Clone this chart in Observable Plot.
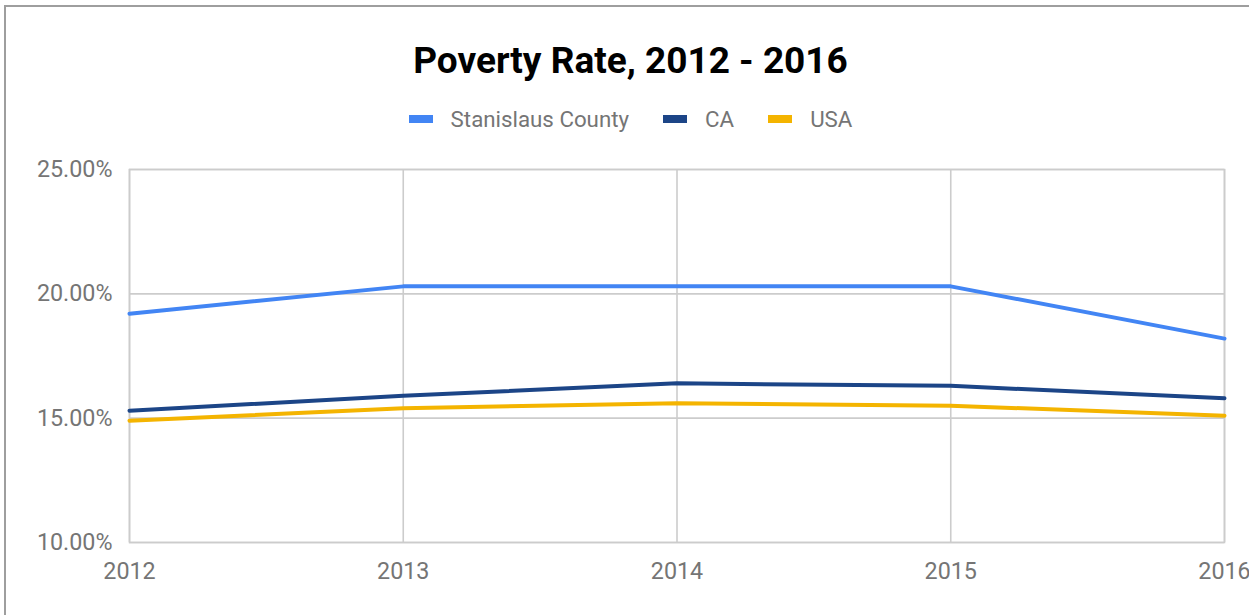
<!DOCTYPE html>
<html>
<head>
<meta charset="utf-8">
<script src="https://cdn.jsdelivr.net/npm/d3@7"></script>
<script src="https://cdn.jsdelivr.net/npm/@observablehq/plot@0.6"></script>
<style>
  html, body { margin: 0; padding: 0; background: #fff; overflow: hidden; }
  body { width: 1249px; height: 615px; position: relative; font-family: Roboto, "Noto Sans", sans-serif; }
  #border { position: absolute; left: 4px; top: 5px; width: 2000px; height: 2000px;
            border-top: 2px solid #9e9e9e; border-left: 2px solid #9e9e9e; box-sizing: border-box; }
  #title { position: absolute; left: 0; top: 42px; width: 1261px; text-align: center;
           font-size: 37px; font-weight: bold; line-height: 37px; color: #000; }
  #legend { position: absolute; left: 0; top: 106px; width: 1261px; height: 26px;
            display: flex; justify-content: center; align-items: center; }
  .item { display: flex; align-items: center; margin: 0 17px; }
  .sw { width: 24px; height: 8px; margin-right: 18px; }
  .lab { font-size: 22.3px; color: #757575; line-height: 26px; }
  #chart { position: absolute; left: 0; top: 145px; }
</style>
</head>
<body>
<div id="border"></div>
<div id="title">Poverty Rate, 2012 - 2016</div>
<div id="legend"></div>
<div id="chart"></div>
<script>
const years = [2012, 2013, 2014, 2015, 2016];
const seriesNames = ["Stanislaus County", "CA", "USA"];
const stanislaus = [0.192, 0.203, 0.203, 0.203, 0.182];
const ca = [0.153, 0.159, 0.164, 0.163, 0.158];
const usa = [0.149, 0.154, 0.156, 0.155, 0.151];
const yTicks = [0.10, 0.15, 0.20, 0.25];
const colors = ["#4285f4", "#1c4587", "#f4b400"];

const seriesValues = [stanislaus, ca, usa];
const data = [];
seriesNames.forEach((s, i) => years.forEach((y, j) => data.push({series: s, year: y, value: seriesValues[i][j]})));

// legend
const legend = document.getElementById("legend");
seriesNames.forEach((s, i) => {
  const it = document.createElement("div"); it.className = "item";
  const sw = document.createElement("div"); sw.className = "sw"; sw.style.background = colors[i];
  const lb = document.createElement("span"); lb.className = "lab"; lb.textContent = s;
  it.appendChild(sw); it.appendChild(lb); legend.appendChild(it);
});

const chart = Plot.plot({
  width: 1249,
  height: 470,
  marginLeft: 129,
  marginRight: 25,
  marginTop: 24,
  marginBottom: 73,
  style: { fontFamily: "Roboto, sans-serif", fontSize: "23.3px", color: "#757575", background: "transparent" },
  x: { domain: [2012, 2016], label: null },
  y: { domain: [0.10, 0.25], label: null },
  color: { domain: seriesNames, range: colors },
  marks: [
    Plot.gridX(years, { stroke: "#cccccc", strokeOpacity: 1, strokeWidth: 1.6 }),
    Plot.gridY(yTicks, { stroke: "#cccccc", strokeOpacity: 1, strokeWidth: 1.6 }),
    Plot.frame({ stroke: "#cccccc", strokeWidth: 1.6 }),
    Plot.axisY(yTicks, { tickSize: 0, tickPadding: 17, tickFormat: d3.format(".2%"), fill: "#757575", label: null }),
    Plot.axisX(years, { tickSize: 0, tickPadding: 20, tickFormat: d => String(d), fill: "#757575", label: null }),
    Plot.line(data, { x: "year", y: "value", z: "series", stroke: "series", strokeWidth: 4, strokeLinejoin: "round" })
  ]
});
document.getElementById("chart").appendChild(chart);
</script>
</body>
</html>
